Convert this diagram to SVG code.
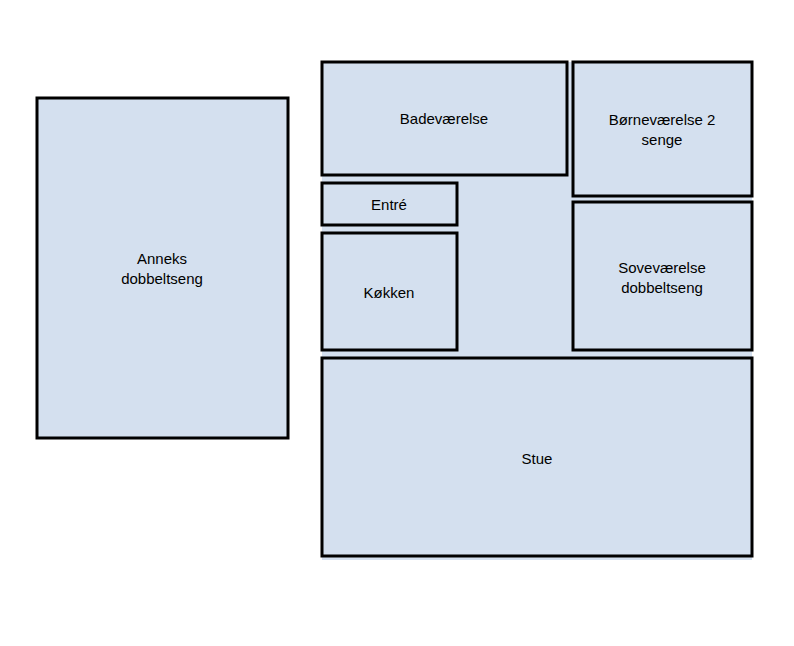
<svg xmlns="http://www.w3.org/2000/svg" width="794" height="646" viewBox="0 0 794 646">
<style>
.r{fill:#d4e0ef;stroke:#000;stroke-width:3}
.t{font-family:"Liberation Sans",Arial,sans-serif;font-size:15px;fill:#000;text-anchor:middle}
</style>
<rect width="794" height="646" fill="#fff"/>
<rect x="322" y="62" width="430" height="498" fill="#d4e0ef"/>
<g id="anneks"><rect class="r" x="37" y="98" width="251" height="340"/><text class="t" x="162" y="264">Anneks</text><text class="t" x="162" y="284">dobbeltseng</text></g>
<g id="bad"><rect class="r" x="322" y="62" width="245" height="113"/><text class="t" x="444" y="124">Badeværelse</text></g>
<g id="born"><rect class="r" x="573" y="62" width="179" height="134"/><text class="t" x="662" y="125">Børneværelse 2</text><text class="t" x="662" y="145">senge</text></g>
<g id="entre"><rect class="r" x="322" y="183" width="135" height="42"/><text class="t" x="389" y="210">Entré</text></g>
<g id="kokken"><rect class="r" x="322" y="233" width="135" height="117"/><text class="t" x="389" y="298">Køkken</text></g>
<g id="sove"><rect class="r" x="573" y="202" width="179" height="148"/><text class="t" x="662" y="273">Soveværelse</text><text class="t" x="662" y="293">dobbeltseng</text></g>
<g id="stue"><rect class="r" x="322" y="358" width="430" height="198"/><text class="t" x="537" y="464">Stue</text></g>
</svg>
